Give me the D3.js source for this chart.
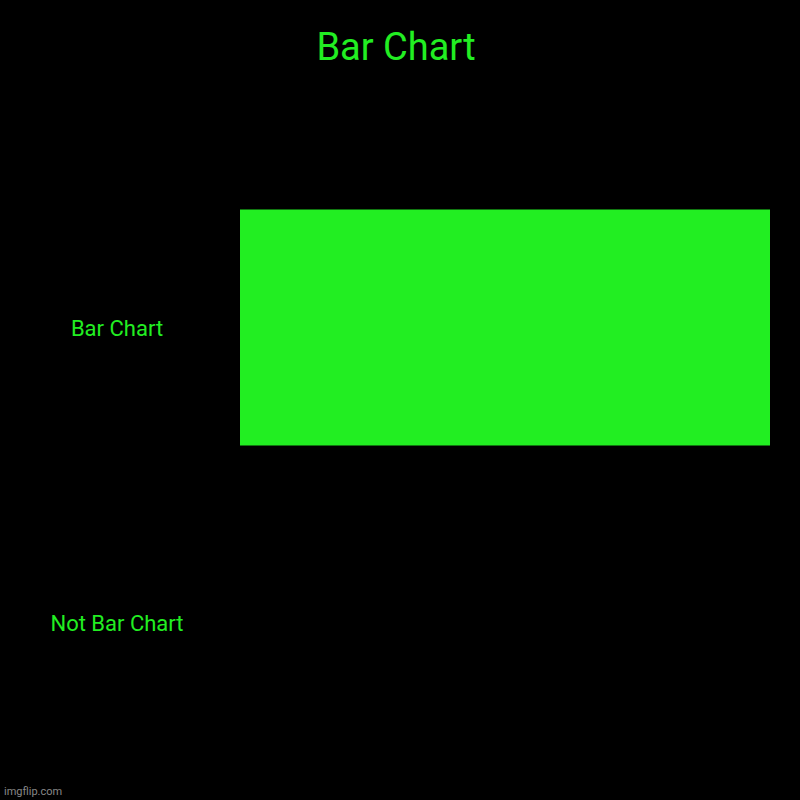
<!DOCTYPE html>
<html><head><meta charset="utf-8">
<script src="https://cdn.jsdelivr.net/npm/d3@7"></script>
<style>html,body{margin:0;padding:0;background:#000;}</style>
</head><body>
<svg id="chart" width="800" height="800"></svg>
<script>
const title = "Bar Chart";
const categories = ["Bar Chart", "Not Bar Chart"];
const values = [1, 0];
const watermark = "imgflip.com";

const W = 800, H = 800;
const green = "#22ee22";
const svg = d3.select("#chart");
svg.append("rect").attr("width", W).attr("height", H).attr("fill", "#000");

const y = d3.scaleBand().domain(categories).range([180, 770]).paddingInner(0.2).paddingOuter(0.1);
const x = d3.scaleLinear().domain([0, d3.max(values)]).range([240, 770]);

svg.selectAll("rect.bar").data(categories.map((c, i) => ({c, v: values[i]})))
  .enter().append("rect").attr("class", "bar")
  .attr("x", x(0)).attr("y", d => y(d.c))
  .attr("width", d => x(d.v) - x(0)).attr("height", y.bandwidth())
  .attr("fill", green);

svg.selectAll("text.lab").data(categories).enter().append("text").attr("class", "lab")
  .attr("x", 117).attr("y", d => y(d) + y.bandwidth() / 2 + 1)
  .attr("text-anchor", "middle").attr("dominant-baseline", "central")
  .attr("font-family", "Roboto").attr("font-size", 22).attr("fill", green)
  .text(d => d);

svg.append("text").attr("x", 396).attr("y", 60).attr("text-anchor", "middle")
  .attr("font-family", "Roboto").attr("font-size", 38).attr("fill", green).text(title);

svg.append("text").attr("x", 4).attr("y", 795)
  .attr("font-family", "Roboto").attr("font-size", 11).attr("fill", "#888").text(watermark);
</script>
</body></html>
